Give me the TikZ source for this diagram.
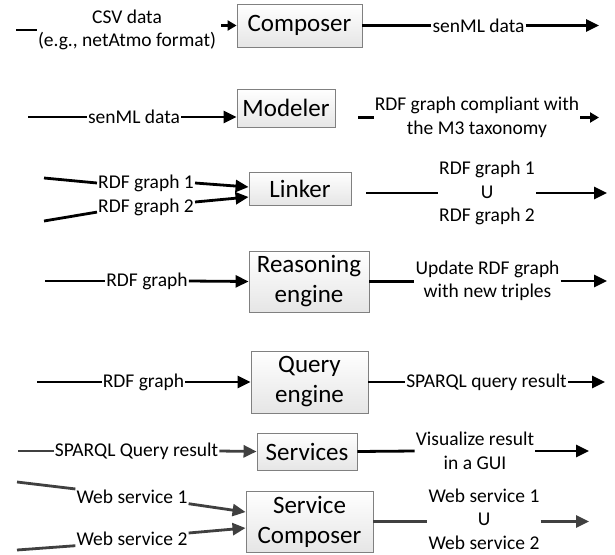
\documentclass[tikz,border=0pt]{standalone}
\usepackage{fontspec}
\setmainfont{Carlito}
\usepackage{tikz}
\usetikzlibrary{arrows.meta,shadows}
\definecolor{wiregray}{HTML}{404040}
\definecolor{boxedge}{HTML}{808080}
\tikzset{
  block/.style={rectangle, draw=boxedge, line width=0.9pt, top color=white, bottom color=black!10,
                inner sep=2pt, align=center, font=\fontsize{25}{30}\selectfont,
                drop shadow={opacity=0.25, shadow xshift=1pt, shadow yshift=-1pt}},
  tag/.style={inner sep=1pt, align=center, font=\fontsize{19.5}{23.5}\selectfont},
  wire/.style={line width=2.8pt},
  fwd/.style={wire, -{Triangle[length=13pt,width=12pt]}},
  short/.style={-{Triangle[length=9pt,width=10pt]}},
  dim/.style={draw=wiregray},
}

\begin{document}
\begin{tikzpicture}[x=1pt, y=-1pt]
  \useasboundingbox (0,0) rectangle (615,554);

  \node[block, minimum width=125pt, minimum height=43pt] (composer) at (299.5,25.5) {Composer};
  \node[block, minimum width=98pt, minimum height=38pt] (modeler) at (286,108) {Modeler};
  \node[block, minimum width=102pt, minimum height=33pt] (linker) at (300,188.5) {Linker};
  \node[block, minimum width=120pt, minimum height=61pt] (reasoner) at (309,281.5) {Reasoning\\engine};
  \node[block, minimum width=117pt, minimum height=62pt] (query) at (309.5,382) {Query\\engine};
  \node[block, minimum width=100pt, minimum height=37pt] (services) at (307,451.5) {Services};
  \node[block, minimum width=127pt, minimum height=61pt] (svccomposer) at (309.5,521.5) {Service\\Composer};

  \node[tag] (csv) at (127,30) {CSV data\\(e.g., netAtmo format)};
  \node[tag] (senmlout) at (478.5,25.5) {senML data};
  \node[tag] (senmlin) at (134,117) {senML data};
  \node[tag] (m3graph) at (477,117.5) {RDF graph compliant with\\the M3 taxonomy};
  \node[tag] (graphA) at (146,183) {RDF graph 1};
  \node[tag] (graphB) at (146,207) {RDF graph 2};
  \node[tag] (union) at (487,193) {RDF graph 1\\U\\RDF graph 2};
  \node[tag] (graphR) at (147,281) {RDF graph};
  \node[tag] (updated) at (487.5,281) {Update RDF graph\\with new triples};
  \node[tag] (graphQ) at (143.5,382) {RDF graph};
  \node[tag] (sparql) at (486.5,382) {SPARQL query result};
  \node[tag] (sparqlin) at (136.5,451) {SPARQL Query result};
  \node[tag] (gui) at (475,451) {Visualize result\\in a GUI};
  \node[tag] (wsA) at (132,497) {Web service 1};
  \node[tag] (wsB) at (132,539) {Web service 2};
  \node[tag] (wsunion) at (484,519) {Web service 1\\U\\Web service 2};

  % loose ends
  \coordinate (csvstub) at (16,30);
  \coordinate (out1) at (599,25.5);
  \coordinate (in2) at (28,117);
  \coordinate (stub2) at (358,117.5);
  \coordinate (out2) at (599,117.5);
  \coordinate (in3a) at (44,178);
  \coordinate (in3b) at (44,221);
  \coordinate (link3) at (366,193);
  \coordinate (out3) at (607,193);
  \coordinate (in4) at (45,281);
  \coordinate (out4) at (607,281);
  \coordinate (in5) at (37,382);
  \coordinate (out5) at (605,382);
  \coordinate (in6) at (18,451);
  \coordinate (out6) at (589,451);
  \coordinate (in7a) at (17,482);
  \coordinate (in7b) at (17,550);
  \coordinate (out7) at (589,521.5);

  \draw[wire] (csvstub) -- (csv.west);
  \draw[fwd, short] ([xshift=4pt]csv.east |- composer.west) -- (composer.west);
  \draw[wire] (composer.east) -- (senmlout.west);
  \draw[fwd] (senmlout.east) -- (out1);

  \draw[wire] (in2) -- (senmlin.west);
  \draw[fwd] (senmlin.east) -- (senmlin.east -| modeler.west);
  \draw[wire] (stub2) -- (m3graph.west);
  \draw[fwd, short] (m3graph.east) -- (out2);

  \draw[wire] (in3a) -- (graphA.west);
  \draw[wire] (in3b) -- (graphB.base west);
  \draw[fwd] (graphA.east) -- ([yshift=1.5pt]linker.west);
  \draw[fwd] ([yshift=5pt]graphB.east) -- ([yshift=-8.5pt]linker.west);
  \draw[wire] (link3) -- (union.west);
  \draw[fwd] (union.east) -- (out3);

  \draw[wire] (in4) -- (graphR.west);
  \draw[fwd] (graphR.east) -- (reasoner.west);
  \draw[wire] (reasoner.east) -- (reasoner.east -| updated.west);
  \draw[fwd] (updated.east) -- (out4);

  \draw[wire] (in5) -- (graphQ.west);
  \draw[fwd] (graphQ.east) -- (query.west);
  \draw[wire] (query.east) -- (sparql.west);
  \draw[fwd] (sparql.east) -- (out5);

  \draw[wire, dim] (in6) -- (sparqlin.west);
  \draw[fwd, dim] (sparqlin.east) -- (services.west);
  \draw[wire] (services.east) -- (gui.west);
  \draw[fwd] (gui.east) -- (out6);

  \draw[wire, dim] (in7a) -- (wsA.north west);
  \draw[wire, dim] (in7b) -- (wsB.base west);
  \draw[fwd, dim] (wsA.base east) -- ([yshift=9.5pt]svccomposer.west);
  \draw[fwd, dim] ([yshift=6pt]wsB.east) -- ([yshift=-6.5pt]svccomposer.west);
  \draw[wire, dim] (svccomposer.east) -- (svccomposer.east -| wsunion.west);
  \draw[fwd, dim] (wsunion.east |- svccomposer.east) -- (out7);
\end{tikzpicture}
\end{document}
